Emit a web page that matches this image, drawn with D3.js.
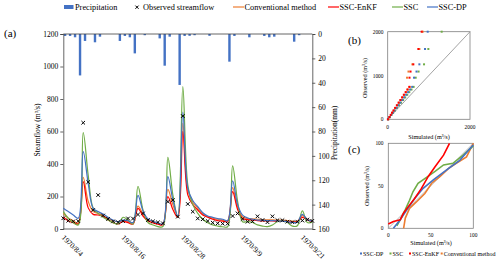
<!DOCTYPE html>
<html><head><meta charset="utf-8">
<script src="https://cdn.jsdelivr.net/npm/d3@7/dist/d3.min.js"></script>
<style>
html,body{margin:0;padding:0;background:#fff;}
svg{display:block;}
svg text{font-family:"Liberation Serif","Times New Roman",serif;}
</style></head>
<body><svg id="c" width="500" height="264" font-family="Liberation Serif"></svg>
<script>
// ---------- data ----------
const startDate = new Date(1970, 7, 4);
const tickLabels = ["1970/8/4", "1970/8/16", "1970/8/28", "1970/9/9", "1970/9/21"];
const tickDays = [0, 12, 24, 36, 48];
const precipitation = [1.6,1.6,2.7,34,5.7,0,6.8,2.2,0,0,0,5.7,1.6,2.7,15.9,0,1,0,0,3.6,26,2.2,0,41.8,1.6,1.5,1,0,0,1.5,0,0,0,22.7,1.6,0,0,2.7,0,0,1.6,2.7,2.2,0,0,0,6.3,1,0,0,0];
const observed = [66,51,47,49,654,289,117,209,83,62,47,41,48,65,64,89,96,55,47,41,35,168,178,76,695,154,107,65,60,49,39,35,33,33,80,96,62,45,47,78,55,42,78,54,54,45,42,45,52,58,50];
const conventional = [96,66,51,35,318,170,107,96,82,66,51,45,51,47,38,141,92,58,45,36,30,244,150,80,650,240,165,129,92,76,66,60,55,51,255,135,75,65,62,60,58,56,56,55,55,52,48,48,82,60,50];
const sscEnKF = [72,51,39,31,291,130,90,86,78,55,39,31,47,39,30,127,80,50,38,30,26,199,120,72,600,210,150,117,86,72,60,51,49,45,230,120,65,58,55,52,50,50,50,48,48,46,42,45,72,55,45];
const ssc = [107,66,39,25,593,330,127,96,72,55,39,31,72,55,30,263,117,40,25,15,15,441,210,74,876,270,150,96,60,39,25,18,14,14,388,170,45,45,40,25,18,15,25,45,50,40,18,20,111,40,42];
const sscDP = [127,107,86,66,476,280,127,107,92,72,55,45,55,51,40,207,111,62,47,38,32,322,180,80,720,250,175,137,100,80,72,64,60,51,297,150,85,68,60,55,55,52,52,50,48,45,40,42,90,58,48];

// panel (b): observed quantiles and simulated values per method
const bObserved = [0,50,100,150,200,260,320,380,440,500,560,620,680,740,950,1090,1255,1605,2000];
const bEnKF = [5,40,72,105,140,180,222,265,308,350,392,435,478,525,530,555,623,745,826];
const bConv = [18,48,80,112,148,188,230,272,315,360,402,445,490,535,470,505,600,770,850];
const bDP = [6,45,85,125,165,212,258,305,352,400,448,496,545,595,640,700,770,907,972];
const bSSC = [10,48,90,132,175,225,275,325,375,425,475,525,578,630,680,750,883,988,1312];

// panel (c): [simulated, observed]
const cDP = [[6,0],[10,5],[14,10],[22,22],[31,35],[41,47],[53,57],[69,69],[84,80],[98,96],[100,98]];
const cSSC = [[10,3],[14,10],[20,22],[25,33],[29,43],[35,53],[45,60],[55,67],[65,74.5],[76,76.5],[88,86],[100,97]];
const cEnKF = [[0,5],[6,8],[14,10],[18,18],[23.5,25.5],[31,35],[39,47],[47,61],[55,72.5],[65,86],[72,100]];
const cConv = [[18,0],[20,12],[25,23.5],[33,31],[43,41],[51,53],[61,61],[71,70.5],[80,76.5],[92,84],[100,100]];

const COL = {conv:"#ED7D31", enkf:"#FF0000", ssc:"#70AD47", dp:"#4472C4", pr:"#4472C4"};
const FONT = "Liberation Serif";

// ---------- main panel ----------
const svg = d3.select("#c");
const dates = observed.map((_, i) => d3.timeDay.offset(startDate, i));
const x = d3.scaleTime().domain([startDate, d3.timeDay.offset(startDate, 50)]).range([63.3, 312.3]);
const yL = d3.scaleLinear().domain([0, 1200]).range([229, 34]);
const yR = d3.scaleLinear().domain([0, 160]).range([34, 229]);
const axCol = "#404040";

// precipitation bars
svg.append("g").selectAll("rect").data(precipitation).join("rect")
  .attr("x", (d, i) => x(dates[i]) + 0.6)
  .attr("y", yR(0))
  .attr("width", 2.4)
  .attr("height", d => yR(d) - yR(0))
  .attr("fill", COL.pr);

// axes
const gL = svg.append("g").attr("transform", "translate(63.3,0)")
  .call(d3.axisLeft(yL).tickValues(d3.range(0, 1201, 200)).tickFormat(d3.format("d")).tickSize(3).tickPadding(2));
const gR = svg.append("g").attr("transform", "translate(312.3,0)")
  .call(d3.axisRight(yR).tickValues(d3.range(0, 161, 20)).tickFormat(d3.format("d")).tickSize(3).tickPadding(3));
[gL, gR].forEach(g => {
  g.attr("font-family", FONT);
  g.select(".domain").attr("stroke", axCol).attr("stroke-width", 0.8);
  g.selectAll(".tick line").attr("stroke", axCol).attr("stroke-width", 0.8);
  g.selectAll("text").attr("font-family", FONT).attr("font-size", 7.5).attr("fill", "#000");
});
svg.append("line").attr("x1", 63.3).attr("x2", 312.3).attr("y1", yL(0)).attr("y2", yL(0)).attr("stroke", axCol).attr("stroke-width", 0.8);
svg.append("line").attr("x1", 63.3).attr("x2", 312.3).attr("y1", yR(0)).attr("y2", yR(0)).attr("stroke", axCol).attr("stroke-width", 0.8);

// x tick labels
svg.append("g").selectAll("text").data(tickDays).join("text")
  .attr("transform", (d) => `translate(${x(dates[d]) - 2},${238}) rotate(45)`)
  .attr("font-size", 7.5)
  .text((d, i) => tickLabels[i]);

// lines
const line = arr => d3.line().x((d, i) => x(dates[i])).y(d => yL(d)).curve(d3.curveCatmullRom.alpha(0.5))(arr);
[[conventional, COL.conv], [sscEnKF, COL.enkf], [ssc, COL.ssc], [sscDP, COL.dp]].forEach(([arr, c]) => {
  svg.append("path").attr("d", line(arr)).attr("fill", "none").attr("stroke", c).attr("stroke-width", 1.2);
});

// observed markers
const xMark = "M-1.8,-1.8L1.8,1.8M-1.8,1.8L1.8,-1.8";
svg.append("g").selectAll("path").data(observed).join("path")
  .attr("transform", (d, i) => `translate(${x(dates[i])},${yL(d)})`)
  .attr("d", xMark).attr("stroke", "#000").attr("stroke-width", 1).attr("fill", "none");

// axis titles
svg.append("text").attr("transform", "translate(40,130) rotate(-90)").attr("text-anchor", "middle")
  .attr("font-size", 7.6).text("Steamflow (m³/s)");
svg.append("text").attr("transform", "translate(337,133) rotate(-90)").attr("text-anchor", "middle")
  .attr("font-size", 7.4).text("Precipitation(mm)");
svg.append("text").attr("x", 4).attr("y", 37).attr("font-size", 11).text("(a)");
svg.append("text").attr("x", 348).attr("y", 44).attr("font-size", 11).text("(b)");
svg.append("text").attr("x", 348).attr("y", 153).attr("font-size", 11).text("(c)");

// ---------- legend ----------
const lg = svg.append("g").attr("font-size", 8.3);
lg.append("rect").attr("x", 64).attr("y", 5).attr("width", 9.5).attr("height", 4).attr("fill", COL.pr);
lg.append("text").attr("x", 75).attr("y", 10).text("Precipitation");
lg.append("path").attr("transform", "translate(137,7.2)").attr("d", "M-1.6,-1.6L1.6,1.6M-1.6,1.6L1.6,-1.6").attr("stroke", "#000").attr("stroke-width", 1);
lg.append("text").attr("x", 143).attr("y", 10).text("Observed streamflow");
[[233, "Conventional method", COL.conv], [328, "SSC-EnKF", COL.enkf], [392, "SSC", COL.ssc], [427, "SSC-DP", COL.dp]].forEach(([lx, t, c]) => {
  lg.append("line").attr("x1", lx).attr("x2", lx + 11).attr("y1", 7).attr("y2", 7).attr("stroke", c).attr("stroke-width", 1.2);
  lg.append("text").attr("x", lx + 11.5).attr("y", 10).text(t);
});

// ---------- panel (b) ----------
const bx = d3.scaleLinear().domain([0, 2000]).range([387.7, 470]);
const by = d3.scaleLinear().domain([0, 2000]).range([119.3, 31.7]);
const boxCol = "#7f7f7f";
svg.append("rect").attr("x", bx(0)).attr("y", by(2000)).attr("width", bx(2000) - bx(0)).attr("height", by(0) - by(2000))
  .attr("fill", "none").attr("stroke", boxCol).attr("stroke-width", 0.8);
svg.append("line").attr("x1", bx(0)).attr("y1", by(0)).attr("x2", bx(2000)).attr("y2", by(2000)).attr("stroke", "#8c8c8c").attr("stroke-width", 0.8);
[[bConv, COL.conv], [bSSC, COL.ssc], [bDP, COL.dp], [bEnKF, COL.enkf]].forEach(([arr, c]) => {
  svg.append("g").selectAll("rect").data(arr).join("rect")
    .attr("x", d => bx(d) - 1).attr("y", (d, i) => by(bObserved[i]) - 1)
    .attr("width", 2).attr("height", 2).attr("fill", c);
});
const bt = svg.append("g").attr("font-size", 5.4);
[0, 1000, 2000].forEach(v => {
  bt.append("text").attr("x", 383.5).attr("y", by(v) + 2).attr("text-anchor", "end").text(v);
});
[0, 2000].forEach(v => {
  bt.append("text").attr("x", bx(v)).attr("y", 129).attr("text-anchor", "middle").text(v);
});
svg.append("text").attr("x", 429).attr("y", 138.5).attr("text-anchor", "middle").attr("font-size", 6.2).text("Simulated (m³/s)");
svg.append("text").attr("transform", "translate(367,78) rotate(-90)").attr("text-anchor", "middle").attr("font-size", 6.2).text("Observed (m³/s)");

// ---------- panel (c) ----------
const cx = d3.scaleLinear().domain([0, 100]).range([388.3, 473.3]);
const cy = d3.scaleLinear().domain([0, 100]).range([228.3, 143.3]);
svg.append("rect").attr("x", cx(0)).attr("y", cy(100)).attr("width", cx(100) - cx(0)).attr("height", cy(0) - cy(100))
  .attr("fill", "none").attr("stroke", boxCol).attr("stroke-width", 0.8);
svg.append("line").attr("x1", cx(0)).attr("y1", cy(0)).attr("x2", cx(100)).attr("y2", cy(100)).attr("stroke", "#a5a5a5").attr("stroke-width", 0.8);
const cl = d3.line().x(d => cx(d[0])).y(d => cy(d[1]));
[[cConv, COL.conv], [cSSC, COL.ssc], [cDP, COL.dp], [cEnKF, COL.enkf]].forEach(([arr, c]) => {
  svg.append("path").attr("d", cl(arr)).attr("fill", "none").attr("stroke", c).attr("stroke-width", 1.6);
});
const ct = svg.append("g").attr("font-size", 5.4);
[0, 50, 100].forEach(v => {
  ct.append("text").attr("x", 383.5).attr("y", cy(v) + 2).attr("text-anchor", "end").text(v);
  ct.append("text").attr("x", cx(v)).attr("y", 237).attr("text-anchor", "middle").text(v);
});
svg.append("text").attr("x", 431).attr("y", 244.5).attr("text-anchor", "middle").attr("font-size", 6.2).text("Simulated (m³/s)");
svg.append("text").attr("transform", "translate(369,186) rotate(-90)").attr("text-anchor", "middle").attr("font-size", 6.2).text("Observed (m³/s)");

// legend (c)
const lc = svg.append("g").attr("font-size", 6);
[[361, "SSC-DP", COL.dp], [390.5, "SSC", COL.ssc], [410, "SSC-EnKF", COL.enkf], [441.7, "Conventional method", COL.conv]].forEach(([lx, t, c]) => {
  lc.append("rect").attr("x", lx - 1).attr("y", 252.5).attr("width", 2).attr("height", 2).attr("fill", c);
  lc.append("text").attr("x", lx + 2).attr("y", 255.5).text(t);
});
</script></body></html>
